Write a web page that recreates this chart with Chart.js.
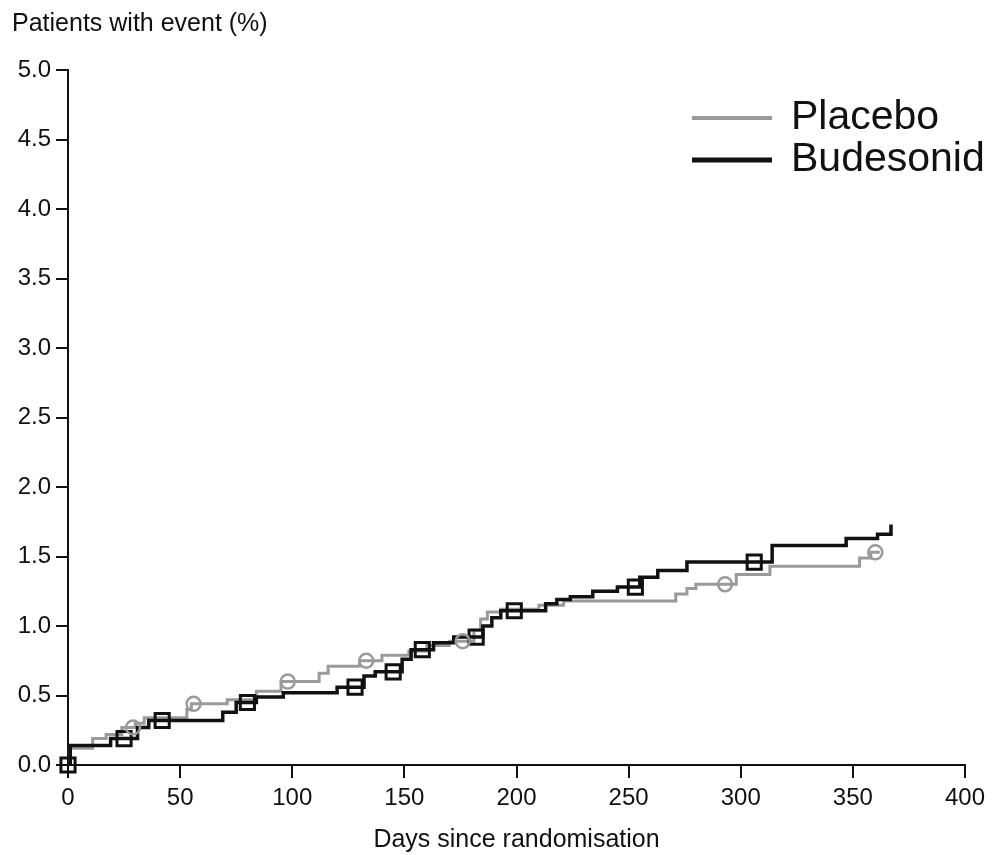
<!DOCTYPE html>
<html>
<head>
<meta charset="utf-8">
<script src="https://cdn.jsdelivr.net/npm/chart.js@4/dist/chart.umd.min.js"></script>
<style>
    html, body { margin: 0; padding: 0; background: #fff; }
    #wrap { width: 992px; height: 855px; }
</style>
</head>
<body>
<div id="wrap"><canvas id="kmChart" width="992" height="855"></canvas></div>
<script>
// Kaplan-Meier style step data
const placeboDays = [0, 1, 11, 17, 24, 30, 34, 53, 55, 71, 84, 95, 112, 116, 130, 140, 152, 160, 170, 181, 184, 187, 193, 210, 221, 271, 276, 280, 298, 313, 353, 358, 362];
const placeboPct  = [0, 0.12, 0.19, 0.22, 0.27, 0.30, 0.34, 0.40, 0.44, 0.47, 0.53, 0.60, 0.66, 0.71, 0.75, 0.79, 0.82, 0.86, 0.89, 0.97, 1.05, 1.10, 1.12, 1.15, 1.18, 1.23, 1.27, 1.30, 1.37, 1.43, 1.49, 1.53, 1.53];

const budesonidDays = [0, 1, 19, 31, 36, 69, 75, 84, 96, 120, 132, 137, 149, 153, 163, 172, 185, 189, 193, 213, 218, 224, 234, 245, 255, 263, 276, 314, 347, 361, 367];
const budesonidPct  = [0, 0.14, 0.19, 0.27, 0.32, 0.38, 0.45, 0.49, 0.52, 0.56, 0.64, 0.67, 0.76, 0.83, 0.88, 0.92, 1.00, 1.06, 1.11, 1.16, 1.19, 1.21, 1.25, 1.28, 1.35, 1.40, 1.46, 1.58, 1.63, 1.66, 1.73];

// censor marks
const placeboCensorDays = [29, 56, 98, 133, 176, 293, 360];
const placeboCensorPct  = [0.27, 0.44, 0.60, 0.75, 0.89, 1.30, 1.53];
const budesonidCensorDays = [0, 25, 42, 80, 128, 145, 158, 182, 199, 253, 306];
const budesonidCensorPct  = [0, 0.19, 0.32, 0.45, 0.56, 0.67, 0.83, 0.92, 1.11, 1.28, 1.46];

const xTicks = [0, 50, 100, 150, 200, 250, 300, 350, 400];
const yTicks = [0, 0.5, 1, 1.5, 2, 2.5, 3, 3.5, 4, 4.5, 5];

const seriesNames = ["Placebo", "Budesonid"];
const placeboColor = "#9a9a9a";
const budesonidColor = "#111111";
const fontFamily = "'Liberation Sans', Arial, Helvetica, sans-serif";

function toPoints(xs, ys) {
    return xs.map((x, i) => ({ x: x, y: ys[i] }));
}

// title at the top left and the legend at the top right
const extrasPlugin = {
    id: "extras",
    afterDraw(chart) {
        const ctx = chart.ctx;
        ctx.save();
        ctx.fillStyle = "#111";
        ctx.textBaseline = "middle";
        ctx.textAlign = "left";
        ctx.font = "25px " + fontFamily;
        ctx.fillText("Patients with event (%)", 12, 24);

        const rows = [
            { label: seriesNames[0], color: placeboColor, width: 4, y: 118 },
            { label: seriesNames[1], color: budesonidColor, width: 5, y: 160 }
        ];
        ctx.font = "41px " + fontFamily;
        rows.forEach(r => {
            ctx.strokeStyle = r.color;
            ctx.lineWidth = r.width;
            ctx.beginPath();
            ctx.moveTo(692, r.y);
            ctx.lineTo(772, r.y);
            ctx.stroke();
            ctx.fillStyle = "#111";
            ctx.fillText(r.label, 791, r.y);
        });
        ctx.restore();
    }
};

const ctx = document.getElementById("kmChart").getContext("2d");
new Chart(ctx, {
    type: "line",
    data: {
        datasets: [
            {
                label: seriesNames[0],
                data: toPoints(placeboDays, placeboPct),
                borderColor: placeboColor,
                borderWidth: 3,
                stepped: "before",
                pointRadius: 0,
                fill: false,
                order: 2
            },
            {
                label: seriesNames[1],
                data: toPoints(budesonidDays, budesonidPct),
                borderColor: budesonidColor,
                borderWidth: 3.5,
                stepped: "before",
                pointRadius: 0,
                fill: false,
                order: 1
            },
            {
                type: "scatter",
                label: "Placebo censored",
                data: toPoints(placeboCensorDays, placeboCensorPct),
                pointStyle: "circle",
                pointRadius: 7,
                borderColor: placeboColor,
                backgroundColor: "rgba(255,255,255,0)",
                pointBorderWidth: 2.5,
                showLine: false,
                clip: false,
                order: 0
            },
            {
                type: "scatter",
                label: "Budesonid censored",
                data: toPoints(budesonidCensorDays, budesonidCensorPct),
                pointStyle: "rect",
                pointRadius: 10,
                borderColor: budesonidColor,
                backgroundColor: "rgba(255,255,255,0)",
                pointBorderWidth: 3,
                showLine: false,
                clip: false,
                order: 0
            }
        ]
    },
    options: {
        responsive: false,
        animation: false,
        layout: { padding: { top: 70, right: 27, left: 0, bottom: 0 } },
        plugins: {
            legend: { display: false },
            tooltip: { enabled: false }
        },
        scales: {
            x: {
                type: "linear",
                min: 0,
                max: 400,
                afterFit: (scale) => { scale.height = 90; },
                afterBuildTicks: (scale) => { scale.ticks = xTicks.map(v => ({ value: v })); },
                border: { display: true, color: "#111", width: 2 },
                grid: { drawOnChartArea: false, drawTicks: true, tickLength: 13, color: "#111", lineWidth: 2 },
                ticks: {
                    color: "#111",
                    padding: 6,
                    font: { family: fontFamily, size: 24 },
                    callback: (v) => String(v)
                },
                title: {
                    display: true,
                    text: "Days since randomisation",
                    color: "#111",
                    font: { family: fontFamily, size: 25 },
                    padding: { top: 0, bottom: 0 }
                }
            },
            y: {
                type: "linear",
                min: 0,
                max: 5,
                afterFit: (scale) => { scale.width = 68; },
                afterBuildTicks: (scale) => { scale.ticks = yTicks.map(v => ({ value: v })); },
                border: { display: true, color: "#111", width: 2 },
                grid: { drawOnChartArea: false, drawTicks: true, tickLength: 12, color: "#111", lineWidth: 2 },
                ticks: {
                    color: "#111",
                    padding: 5,
                    font: { family: fontFamily, size: 24 },
                    callback: (v) => Number(v).toFixed(1)
                }
            }
        }
    },
    plugins: [extrasPlugin]
});
</script>
</body>
</html>
